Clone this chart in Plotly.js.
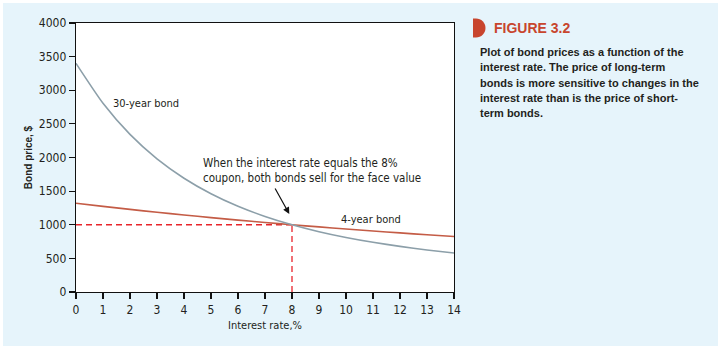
<!DOCTYPE html>
<html>
<head>
<meta charset="utf-8">
<script src="https://cdn.plot.ly/plotly-3.0.1.min.js"></script>
<style>html,body{margin:0;padding:0;background:#fff;}#chart{width:723px;height:351px;}</style>
</head>
<body>
<div id="chart"></div>
<script>
// Data
const interestRate = [0, 1, 2, 3, 4, 5, 6, 7, 8, 9, 10, 11, 12, 13, 14];
const price30Year = [3400, 2807, 2344, 1980, 1692, 1461, 1275, 1124, 1000, 897, 811, 739, 678, 625, 580];
const price4Year = [1320, 1273, 1228, 1186, 1145, 1106, 1069, 1034, 1000, 968, 937, 907, 879, 851, 825];
const faceValue = 1000;
const couponRate = 8;
const xTicks = [0, 1, 2, 3, 4, 5, 6, 7, 8, 9, 10, 11, 12, 13, 14];
const yTicks = [0, 500, 1000, 1500, 2000, 2500, 3000, 3500, 4000];
const captionLines = [
  "Plot of bond prices as a function of the",
  "interest rate. The price of long-term",
  "bonds is more sensitive to changes in the",
  "interest rate than is the price of short-",
  "term bonds."
];

const narrow = "DejaVu Sans Condensed, Liberation Sans Narrow, sans-serif";
const sans = "Liberation Sans, Arial, sans-serif";
const ink = "#231f20";

const traces = [
  {x: [0, couponRate], y: [faceValue, faceValue], mode: "lines",
   line: {color: "#e8242b", width: 1.3, dash: "6px,4px"}, hoverinfo: "skip", showlegend: false},
  {x: [couponRate, couponRate], y: [0, faceValue], mode: "lines",
   line: {color: "#e8242b", width: 1.3, dash: "6px,4px"}, hoverinfo: "skip", showlegend: false},
  {x: interestRate, y: price4Year, mode: "lines", name: "4-year bond",
   line: {color: "#c45c46", width: 1.6, shape: "spline", smoothing: 0.6}, showlegend: false},
  {x: interestRate, y: price30Year, mode: "lines", name: "30-year bond",
   line: {color: "#8c9fa9", width: 1.6, shape: "spline", smoothing: 0.6}, showlegend: false}
];

// pixel -> paper helpers (plot area 76..454 x, 23..292 y)
const L = 76, R = 454, T = 23, B = 292;
const px = p => (p - L) / (R - L);
const py = p => (B - p) / (B - T);

const cx = px(476), cy = py(28), rx = 9.5 / (R - L), ry = 9.5 / (B - T);
const k = 0.5523;
const halfDisc = `M ${px(473)},${cy - ry} L ${cx},${cy - ry} C ${cx + k * rx},${cy - ry} ${cx + rx},${cy - k * ry} ${cx + rx},${cy} C ${cx + rx},${cy + k * ry} ${cx + k * rx},${cy + ry} ${cx},${cy + ry} L ${px(473)},${cy + ry} Z`;

const annotations = [
  {x: 2.59, y: 2810, xref: "x", yref: "y", text: "30-year bond", showarrow: false,
   font: {family: narrow, size: 11, color: ink}},
  {x: 10.93, y: 1085, xref: "x", yref: "y", text: "4-year bond", showarrow: false,
   font: {family: narrow, size: 11, color: ink}},
  {x: 4.63, y: 1814, xref: "x", yref: "y", xanchor: "left", align: "left", showarrow: false,
   text: "When the interest rate equals the 8%<br>coupon, both bonds sell for the face value",
   font: {family: narrow, size: 11.5, color: ink}},
  {x: 7.9, y: 1160, xref: "x", yref: "y", ax: -15, ay: -27, text: "", showarrow: true,
   arrowhead: 2, arrowsize: 1.1, arrowwidth: 1.2, arrowcolor: "#111"},
  {x: px(492), y: py(28), xref: "paper", yref: "paper", xanchor: "left", yanchor: "middle",
   text: "<b>FIGURE 3.2</b>", showarrow: false, font: {family: sans, size: 14, color: "#c8452d"}}
];
const lineY = [52, 67, 83, 98, 113];
captionLines.forEach((t, i) => annotations.push({
  x: px(478), y: py(lineY[i]), xref: "paper", yref: "paper", xanchor: "left", yanchor: "middle",
  text: "<b>" + t + "</b>", showarrow: false, font: {family: sans, size: 11, color: ink}
}));

const layout = {
  width: 723, height: 351,
  margin: {l: L, r: 723 - R, t: T, b: 351 - B, pad: 0},
  paper_bgcolor: "#ffffff",
  plot_bgcolor: "#ffffff",
  showlegend: false,
  xaxis: {
    range: [0, 14], tickvals: xTicks, ticktext: xTicks.map(String),
    showgrid: false, zeroline: false, showline: true, mirror: true, automargin: true,
    linecolor: "#111", linewidth: 1.3, ticks: "outside", ticklen: 6, tickwidth: 1.2, tickcolor: "#111",
    tickfont: {family: narrow, size: 12, color: ink},
    title: {text: "Interest rate,%", font: {family: narrow, size: 11, color: ink}, standoff: 5},
    fixedrange: true
  },
  yaxis: {
    range: [0, 4000], tickvals: yTicks, ticktext: yTicks.map(String),
    showgrid: false, zeroline: false, showline: true, mirror: true, automargin: true,
    linecolor: "#111", linewidth: 1.3, ticks: "outside", ticklen: 6, tickwidth: 1.2, tickcolor: "#111",
    tickfont: {family: narrow, size: 12, color: ink},
    title: {text: "<b>Bond price, $</b>", font: {family: sans, size: 10, color: ink}, standoff: 4},
    fixedrange: true
  },
  shapes: [
    {type: "rect", xref: "paper", yref: "paper", x0: px(3), x1: px(718), y0: py(346), y1: py(3),
     fillcolor: "#e6f4fb", line: {width: 0}, layer: "below"},
    {type: "rect", xref: "paper", yref: "paper", x0: 0, x1: 1, y0: 0, y1: 1,
     fillcolor: "#ffffff", line: {width: 0}, layer: "below"},
    {type: "path", xref: "paper", yref: "paper", path: halfDisc, fillcolor: "#c8452d", line: {width: 0}}
  ],
  annotations: annotations
};

Plotly.newPlot("chart", traces, layout, {displayModeBar: false, staticPlot: true});
</script>
</body>
</html>
